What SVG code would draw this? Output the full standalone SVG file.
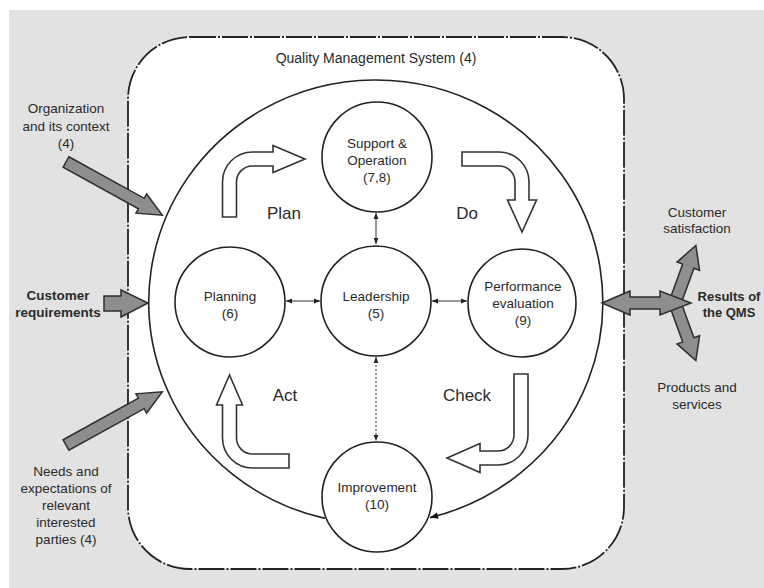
<svg xmlns="http://www.w3.org/2000/svg" width="764" height="588" viewBox="0 0 764 588">
<defs>
<style>
text{font-family:"Liberation Sans",Arial,sans-serif;fill:#2a2a2a;text-anchor:middle}
.lbl{font-size:13.5px}
.b{font-weight:bold}
.pdca{font-size:17px}
.node{fill:#fff;stroke:#222;stroke-width:1.6}
.hollow{fill:#fff;stroke:#333;stroke-width:1.6;stroke-linejoin:miter}
.grey{fill:#8e8e8e;stroke:#2e2e2e;stroke-width:1.5;stroke-linejoin:miter}
.link{stroke:#333;stroke-width:1;fill:none}
</style>
<marker id="ah" viewBox="0 0 10 10" refX="10" refY="5" markerWidth="11" markerHeight="8" markerUnits="userSpaceOnUse" orient="auto"><path d="M0,1 L10,5 L0,9 Z" fill="#111"/></marker>
<marker id="sm" viewBox="0 0 10 10" refX="10" refY="5" markerWidth="7" markerHeight="6" markerUnits="userSpaceOnUse" orient="auto-start-reverse"><path d="M0,1 L10,5 L0,9 Z" fill="#222"/></marker>
</defs>

<rect x="9" y="10" width="755" height="578" fill="#e2e2e2"/>

<g id="qms">
<rect x="128" y="37" width="496" height="532" rx="62" ry="62" fill="#fff" stroke="#222" stroke-width="1.8" stroke-dasharray="26 2 2 2"/>
<text class="lbl" x="376" y="63" style="font-size:14px">Quality Management System (4)</text>
</g>

<g id="connectors">
<path d="M325,518.4 A227,222 0 1 1 430,517.6" fill="none" stroke="#222" stroke-width="1.6" marker-end="url(#ah)"/>
<line class="link" x1="376" y1="213" x2="376" y2="244" marker-start="url(#sm)" marker-end="url(#sm)"/>
<line class="link" x1="376" y1="357" x2="376" y2="441" stroke-dasharray="2 2" marker-start="url(#sm)" marker-end="url(#sm)"/>
<line class="link" x1="286" y1="301" x2="320" y2="301" marker-start="url(#sm)" marker-end="url(#sm)"/>
<line class="link" x1="432" y1="301" x2="467" y2="301" marker-start="url(#sm)" marker-end="url(#sm)"/>
</g>

<g id="pdca-arrows">
<path class="hollow" d="M222.5,217 L222.5,182 A30,30 0 0 1 252.5,152 L273,152 L273,145.5 L305,159 L273,172.5 L273,166 L252.5,166 A16,16 0 0 0 236.5,182 L236.5,217 Z"/>
<path class="hollow" d="M462,152 L499,152 A30,30 0 0 1 529,182 L529,200 L536.5,200 L522,232 L507.5,200 L515,200 L515,182 A16,16 0 0 0 499,166 L462,166 Z"/>
<path class="hollow" d="M514,374 L528,374 L528,435 A30,30 0 0 1 498,465 L480,465 L480,472.5 L447,458 L480,443.5 L480,451 L498,451 A16,16 0 0 0 514,435 Z"/>
<path class="hollow" d="M289,454 L289,468 L252.5,468 A30,30 0 0 1 222.5,438 L222.5,405 L216.5,405 L229.5,375 L242.5,405 L236.5,405 L236.5,438 A16,16 0 0 0 252.5,454 Z"/>
<text class="pdca" x="284" y="219">Plan</text>
<text class="pdca" x="467" y="219">Do</text>
<text class="pdca" x="285" y="401">Act</text>
<text class="pdca" x="467" y="401">Check</text>
</g>

<g id="support">
<circle class="node" cx="377" cy="157" r="55"/>
<text class="lbl" x="377" y="148">Support &amp;</text>
<text class="lbl" x="377" y="165">Operation</text>
<text class="lbl" x="377" y="182">(7,8)</text>
</g>
<g id="leadership">
<circle class="node" cx="376" cy="301" r="55"/>
<text class="lbl" x="376" y="301">Leadership</text>
<text class="lbl" x="376" y="318">(5)</text>
</g>
<g id="planning">
<circle class="node" cx="230" cy="302" r="55"/>
<text class="lbl" x="230" y="301">Planning</text>
<text class="lbl" x="230" y="318">(6)</text>
</g>
<g id="performance">
<circle class="node" cx="522" cy="303" r="54"/>
<text class="lbl" x="523" y="291">Performance</text>
<text class="lbl" x="523" y="308">evaluation</text>
<text class="lbl" x="523" y="325">(9)</text>
</g>
<g id="improvement">
<circle class="node" cx="377" cy="497" r="55"/>
<text class="lbl" x="377" y="492">Improvement</text>
<text class="lbl" x="377" y="509">(10)</text>
</g>

<g id="organization-context">
<polygon class="grey" transform="translate(66,162) rotate(28.9)" points="0,-6 86,-6 86,-11 110,0 86,11 86,6 0,6"/>
<text class="lbl" x="66" y="113">Organization</text>
<text class="lbl" x="66" y="131">and its context</text>
<text class="lbl" x="66" y="148">(4)</text>
</g>
<g id="customer-requirements">
<polygon class="grey" points="104,296 121,296 121,290 148,303 121,317 121,311 104,311"/>
<text class="lbl b" x="58" y="300">Customer</text>
<text class="lbl b" x="58" y="317">requirements</text>
</g>
<g id="needs-expectations">
<polygon class="grey" transform="translate(66,445) rotate(-28.9)" points="0,-6 86,-6 86,-11 110,0 86,11 86,6 0,6"/>
<text class="lbl" x="66" y="476">Needs and</text>
<text class="lbl" x="66" y="493">expectations of</text>
<text class="lbl" x="66" y="510">relevant</text>
<text class="lbl" x="66" y="527">interested</text>
<text class="lbl" x="66" y="544">parties (4)</text>
</g>

<g id="results">
<polygon class="grey" transform="translate(676,300) rotate(-70)" points="0,-6 36,-6 36,-12 58,0 36,12 36,6 0,6"/>
<polygon class="grey" transform="translate(676,306) rotate(70)" points="0,-6 36,-6 36,-12 58,0 36,12 36,6 0,6"/>
<polygon class="grey" points="602,303 630,291 630,297 660,297 660,291 691,303 660,315 660,309 630,309 630,315"/>
<text class="lbl" x="697" y="217">Customer</text>
<text class="lbl" x="697" y="233">satisfaction</text>
<text class="lbl b" x="729" y="301" style="font-size:13px">Results of</text>
<text class="lbl b" x="729" y="317" style="font-size:13px">the QMS</text>
<text class="lbl" x="697" y="392">Products and</text>
<text class="lbl" x="697" y="409">services</text>
</g>
</svg>
